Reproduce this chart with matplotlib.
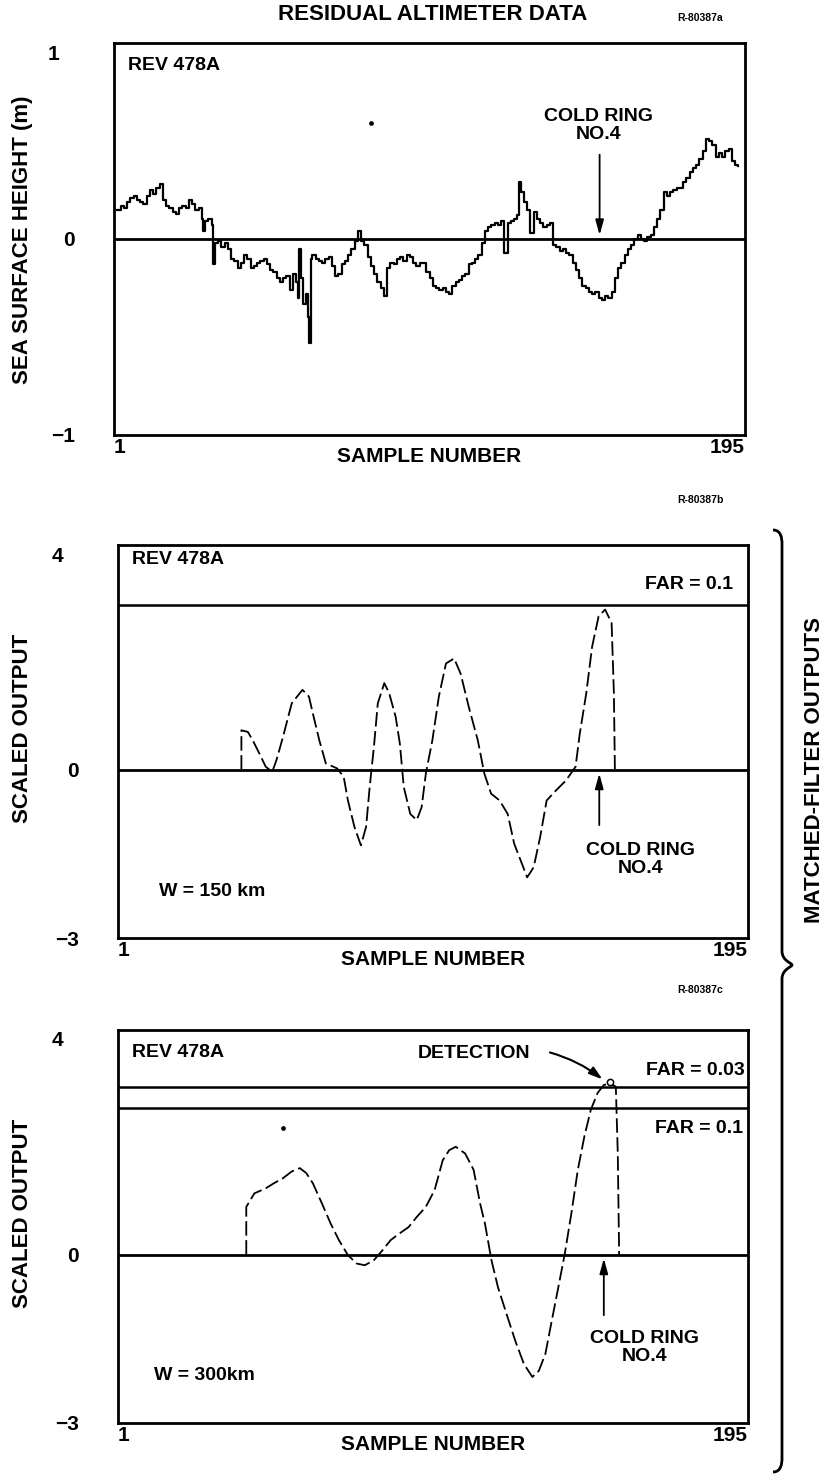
import numpy as np
import matplotlib
matplotlib.use("Agg")
import matplotlib.pyplot as plt
import matplotlib.transforms as mtransforms
from matplotlib.path import Path
from matplotlib.patches import PathPatch

plt.rcParams['font.family'] = ['Liberation Sans', 'DejaVu Sans']
plt.rcParams['font.weight'] = 'bold'

# ---- residual altimeter data, REV 478A ----
alt_samples = [2, 3, 4, 5, 6, 7, 8, 9, 10, 11, 12, 13, 14, 15, 16, 17, 18, 19, 20, 21, 22, 23, 24,
               25, 26, 27, 28, 28.5, 29, 30, 31, 31.5, 32, 33, 34, 35, 36, 37, 38, 39, 40, 41, 42,
               43, 44, 45, 46, 47, 48, 49, 50, 51, 52, 53, 54, 55, 56, 57, 57.5, 58, 58.5, 59, 60,
               60.5, 61, 61.5, 62, 63, 64, 65, 66, 67, 68, 69, 70, 71, 72, 73, 74, 75, 76, 77, 78,
               79, 80, 81, 82, 83, 84, 85, 86, 87, 88, 89, 90, 91, 92, 93, 94, 95, 96, 97, 98, 99,
               100, 101, 102, 103, 104, 105, 106, 107, 108, 109, 110, 111, 112, 113, 114, 115, 116,
               117, 118, 119, 120, 121, 122, 123, 124, 125, 125.5, 126, 127, 128, 129, 130, 131, 132,
               133, 134, 135, 136, 137, 138, 139, 140, 141, 142, 143, 144, 145, 146, 147, 148, 149,
               150, 151, 152, 153, 154, 155, 156, 157, 158, 159, 160, 161, 162, 163, 164, 165, 166,
               167, 168, 169, 170, 171, 172, 173, 174, 175, 176, 177, 178, 179, 180, 181, 182, 183,
               184, 185, 186, 187, 188, 189, 190, 191, 192, 193]
alt_height = [0.15, 0.17, 0.16, 0.19, 0.21, 0.22, 0.20, 0.19, 0.18, 0.22, 0.25, 0.23, 0.26, 0.28,
              0.20, 0.17, 0.16, 0.14, 0.13, 0.16, 0.17, 0.16, 0.20, 0.18, 0.15, 0.16, 0.10, 0.04,
              0.09, 0.10, 0.07, -0.13, -0.02, -0.01, -0.04, -0.02, -0.05, -0.10, -0.11, -0.15,
              -0.12, -0.08, -0.10, -0.15, -0.14, -0.12, -0.11, -0.10, -0.13, -0.16, -0.17, -0.20,
              -0.22, -0.20, -0.19, -0.26, -0.18, -0.22, -0.30, -0.05, -0.20, -0.33, -0.28, -0.40,
              -0.53, -0.10, -0.08, -0.10, -0.11, -0.12, -0.10, -0.09, -0.14, -0.19, -0.18, -0.13,
              -0.11, -0.08, -0.05, -0.01, 0.04, -0.01, -0.03, -0.09, -0.14, -0.18, -0.22, -0.25,
              -0.29, -0.15, -0.12, -0.13, -0.10, -0.09, -0.11, -0.08, -0.09, -0.12, -0.14, -0.12,
              -0.12, -0.17, -0.20, -0.24, -0.25, -0.26, -0.25, -0.27, -0.28, -0.24, -0.22, -0.21,
              -0.19, -0.18, -0.13, -0.12, -0.10, -0.08, -0.02, 0.04, 0.06, 0.07, 0.08, 0.07, 0.09,
              -0.07, 0.08, 0.09, 0.10, 0.12, 0.29, 0.24, 0.19, 0.15, 0.03, 0.14, 0.10, 0.08, 0.06,
              0.07, 0.08, -0.03, -0.04, -0.06, -0.05, -0.07, -0.08, -0.12, -0.16, -0.20, -0.24,
              -0.25, -0.27, -0.28, -0.27, -0.30, -0.31, -0.29, -0.30, -0.27, -0.20, -0.15, -0.12,
              -0.08, -0.05, -0.03, 0.00, 0.02, 0.00, -0.01, 0.01, 0.02, 0.06, 0.10, 0.15, 0.24,
              0.22, 0.24, 0.25, 0.26, 0.26, 0.29, 0.31, 0.34, 0.36, 0.38, 0.41, 0.45, 0.51, 0.50,
              0.48, 0.42, 0.44, 0.42, 0.45, 0.46, 0.40, 0.38, 0.37]
alt_speck = (80, 0.59)

# ---- matched-filter output, W = 150 km ----
mf150_samples = [39, 39, 41, 42.5, 44.5, 46.5, 48.5, 49.8, 51.8, 54.5, 57.8, 59.8, 61, 63, 65, 68.5,
                 70.5, 71.8, 73.8, 75.8, 77.4, 78.5, 79.8, 81, 83, 84.5, 86.5, 87.8, 89, 91, 93,
                 94.5, 95.8, 97.8, 99.8, 102, 104.5, 106.5, 109, 111.8, 113.8, 115.9, 118.5, 121,
                 123, 127, 129, 131, 133, 135.9, 139, 141.9, 143.2, 145.2, 147, 149, 151, 153,
                 153.7, 154, 154]
mf150_output = [0, 0.70, 0.67, 0.52, 0.29, 0.05, -0.04, 0.17, 0.58, 1.18, 1.42, 1.30, 1.00, 0.52,
                0.11, 0.02, -0.13, -0.55, -1.02, -1.35, -1.02, -0.31, 0.40, 1.18, 1.54, 1.36, 0.94,
                0.46, -0.31, -0.79, -0.90, -0.67, -0.07, 0.52, 1.30, 1.89, 1.98, 1.71, 1.12, 0.52,
                -0.07, -0.43, -0.55, -0.79, -1.32, -1.92, -1.74, -1.20, -0.55, -0.37, -0.19, 0.05,
                0.64, 1.36, 2.19, 2.73, 2.85, 2.61, 1.36, 0.05, 0]
mf150_far_01 = 2.93

# ---- matched-filter output, W = 300 km ----
mf300_samples = [40.5, 40.5, 43, 46.5, 49, 51.8, 54.5, 57, 59, 61, 63.8, 66.5, 69, 71.8, 74.5, 77,
                 79.8, 82.5, 85, 87.8, 90.5, 93, 95.8, 98.5, 101, 103, 105, 107.9, 110.5, 112.5,
                 114, 116, 118, 120.6, 123.3, 126, 128.6, 130.6, 132.6, 134.6, 136.6, 138.6, 140.6,
                 142.6, 144.6, 146.6, 148.7, 150.6, 152.6, 154.3, 154.9, 155.3, 155.3]
mf300_output = [0, 0.85, 1.09, 1.18, 1.27, 1.36, 1.48, 1.54, 1.45, 1.27, 0.91, 0.55, 0.26, -0.01,
                -0.16, -0.19, -0.10, 0.08, 0.26, 0.38, 0.49, 0.67, 0.85, 1.15, 1.68, 1.86, 1.92,
                1.80, 1.51, 0.91, 0.55, -0.10, -0.58, -1.05, -1.53, -1.95, -2.18, -2.07, -1.77,
                -1.17, -0.58, 0.02, 0.73, 1.51, 2.10, 2.58, 2.88, 3.02, 3.05, 2.99, 1.80, 0.08, 0]
mf300_far_003 = 2.99
mf300_far_01 = 2.61
mf300_detection = (152.6, 3.07)
mf300_speck = (51.8, 2.25)

W, H = 831, 1478
fig = plt.figure(figsize=(W / 100, H / 100), dpi=100)


def rect(l, t, r, b):
    return [l / W, 1 - b / H, (r - l) / W, (b - t) / H]


def fx(x):
    return x / W


def fy(y):
    return 1 - y / H


FS = 14        # in-panel annotations
TICK_FS = 15   # axis numbers
LAB_FS = 15    # axis titles


def style_axes(ax, ylim, yticks):
    ax.set_xlim(1, 195)
    ax.set_ylim(*ylim)
    for sp in ax.spines.values():
        sp.set_linewidth(2.0)
    ax.set_xticks([1, 195])
    ax.set_xticklabels(['1', '195'], fontsize=TICK_FS, fontweight='bold')
    lbls = ax.get_xticklabels()
    lbls[0].set_ha('left')
    lbls[1].set_ha('right')
    ax.set_yticks(yticks)
    ax.set_yticklabels([f"{t:d}".replace('-', '\u2212') for t in yticks],
                       fontsize=TICK_FS, fontweight='bold')
    ax.tick_params(axis='x', length=0, pad=2)
    ax.tick_params(axis='y', length=0, pad=28)
    # the top number sits a little lower and further left than the others
    top = ax.get_yticklabels()[-1]
    top.set_transform(top.get_transform() +
                      mtransforms.ScaledTranslation(-0.16, -0.09, fig.dpi_scale_trans))
    ax.axhline(0, color='black', lw=2.0, zorder=2)


def cold_ring(ax, x, text_y, arrow_from, arrow_to, text_x):
    ax.text(text_x, text_y, 'COLD RING\nNO.4', ha='center', va='center', fontsize=FS,
            fontweight='bold', linespacing=1.05)
    ax.annotate('', xy=(x, arrow_to), xytext=(x, arrow_from),
                arrowprops=dict(arrowstyle='-|>,head_length=0.9,head_width=0.25',
                                color='black', lw=1.3, shrinkA=0, shrinkB=0))


# ---- top panel ----
ax1 = fig.add_axes(rect(114, 43, 745, 435))
style_axes(ax1, (-1, 1), [-1, 0, 1])
ax1.plot(alt_samples, alt_height, color='black', lw=1.6, drawstyle='steps-post', zorder=3)
ax1.plot(*alt_speck, 'o', color='black', ms=2.4)
ax1.text(0.022, 0.965, 'REV 478A', transform=ax1.transAxes, ha='left', va='top',
         fontsize=FS, fontweight='bold')
cold_ring(ax1, 150.3, 0.58, 0.43, 0.02, 150)
ax1.set_xlabel('SAMPLE NUMBER', fontsize=LAB_FS, fontweight='bold', labelpad=-7)

# ---- middle panel ----
ax2 = fig.add_axes(rect(118, 545, 748, 938))
style_axes(ax2, (-3, 4), [-3, 0, 4])
ax2.axhline(mf150_far_01, color='black', lw=1.8)
ax2.plot(mf150_samples, mf150_output, color='black', lw=1.3, ls=(0, (8, 2.5)), zorder=3)
ax2.text(0.022, 0.985, 'REV 478A', transform=ax2.transAxes, ha='left', va='top',
         fontsize=FS, fontweight='bold')
ax2.text(190.5, 3.29, 'FAR = 0.1', ha='right', va='center', fontsize=FS, fontweight='bold')
ax2.text(13.5, -2.18, 'W = 150 km', ha='left', va='center', fontsize=FS, fontweight='bold')
cold_ring(ax2, 149.2, -1.6, -0.99, -0.07, 162)
ax2.set_xlabel('SAMPLE NUMBER', fontsize=LAB_FS, fontweight='bold', labelpad=-7)

# ---- bottom panel ----
ax3 = fig.add_axes(rect(118, 1030, 748, 1423))
style_axes(ax3, (-3, 4), [-3, 0, 4])
ax3.axhline(mf300_far_003, color='black', lw=1.8)
ax3.axhline(mf300_far_01, color='black', lw=1.8)
ax3.plot(mf300_samples, mf300_output, color='black', lw=1.3, ls=(0, (8, 2.5)), zorder=3)
ax3.plot(*mf300_detection, 'o', mfc='white', mec='black', ms=4.5, mew=1.1, zorder=4)
ax3.plot(*mf300_speck, 'o', color='black', ms=2.4)
ax3.text(0.022, 0.965, 'REV 478A', transform=ax3.transAxes, ha='left', va='top',
         fontsize=FS, fontweight='bold')
ax3.text(110.5, 3.59, 'DETECTION', ha='center', va='center', fontsize=FS, fontweight='bold')
ax3.annotate('', xy=(150.2, 3.12), xytext=(134, 3.6),
             arrowprops=dict(arrowstyle='-|>,head_length=0.8,head_width=0.25', color='black',
                             lw=1.5, shrinkA=0, shrinkB=0, connectionstyle='arc3,rad=-0.1'))
ax3.text(194, 3.27, 'FAR = 0.03', ha='right', va='center', fontsize=FS, fontweight='bold')
ax3.text(193.5, 2.25, 'FAR = 0.1', ha='right', va='center', fontsize=FS, fontweight='bold')
ax3.text(12, -2.15, 'W = 300km', ha='left', va='center', fontsize=FS, fontweight='bold')
cold_ring(ax3, 150.6, -1.65, -1.08, -0.07, 163)
ax3.set_xlabel('SAMPLE NUMBER', fontsize=LAB_FS, fontweight='bold', labelpad=-7)

# ---- figure-level labels ----
fig.text(fx(433), fy(15), 'RESIDUAL ALTIMETER DATA', ha='center', va='center', fontsize=16,
         fontweight='bold')
for txt, yy in [('R-80387a', 18), ('R-80387b', 500), ('R-80387c', 990)]:
    fig.text(fx(700), fy(yy), txt, ha='center', va='center', fontsize=7.5, fontweight='bold')
fig.text(fx(23), fy(240), 'SEA SURFACE HEIGHT (m)', rotation=90, ha='center', va='center',
         fontsize=16, fontweight='bold')
fig.text(fx(23), fy(728), 'SCALED OUTPUT', rotation=90, ha='center', va='center',
         fontsize=16, fontweight='bold')
fig.text(fx(23), fy(1213), 'SCALED OUTPUT', rotation=90, ha='center', va='center',
         fontsize=16, fontweight='bold')
fig.text(fx(814), fy(770), 'MATCHED-FILTER OUTPUTS', rotation=90, ha='center', va='center',
         fontsize=16, fontweight='bold')

# curly brace grouping the two matched-filter panels
bx, tipx = 782, 792
ytop, ytip, ybot = 538, 965, 1464
verts = [(773, ytop - 8), (781, ytop - 8), (bx, ytop), (bx, ytop + 6),
         (bx, ytip - 14),
         (bx, ytip - 4), (tipx, ytip - 2), (tipx, ytip),
         (tipx, ytip + 2), (bx, ytip + 4), (bx, ytip + 14),
         (bx, ybot - 6),
         (bx, ybot), (781, ybot + 8), (773, ybot + 8)]
codes = [Path.MOVETO, Path.CURVE4, Path.CURVE4, Path.CURVE4,
         Path.LINETO,
         Path.CURVE4, Path.CURVE4, Path.CURVE4,
         Path.CURVE4, Path.CURVE4, Path.CURVE4,
         Path.LINETO,
         Path.CURVE4, Path.CURVE4, Path.CURVE4]
brace = Path([(fx(x), fy(y)) for x, y in verts], codes)
fig.add_artist(PathPatch(brace, transform=fig.transFigure, fill=False, lw=2.0,
                         edgecolor='black'))

fig.savefig('out.png', dpi=100, facecolor='white')
